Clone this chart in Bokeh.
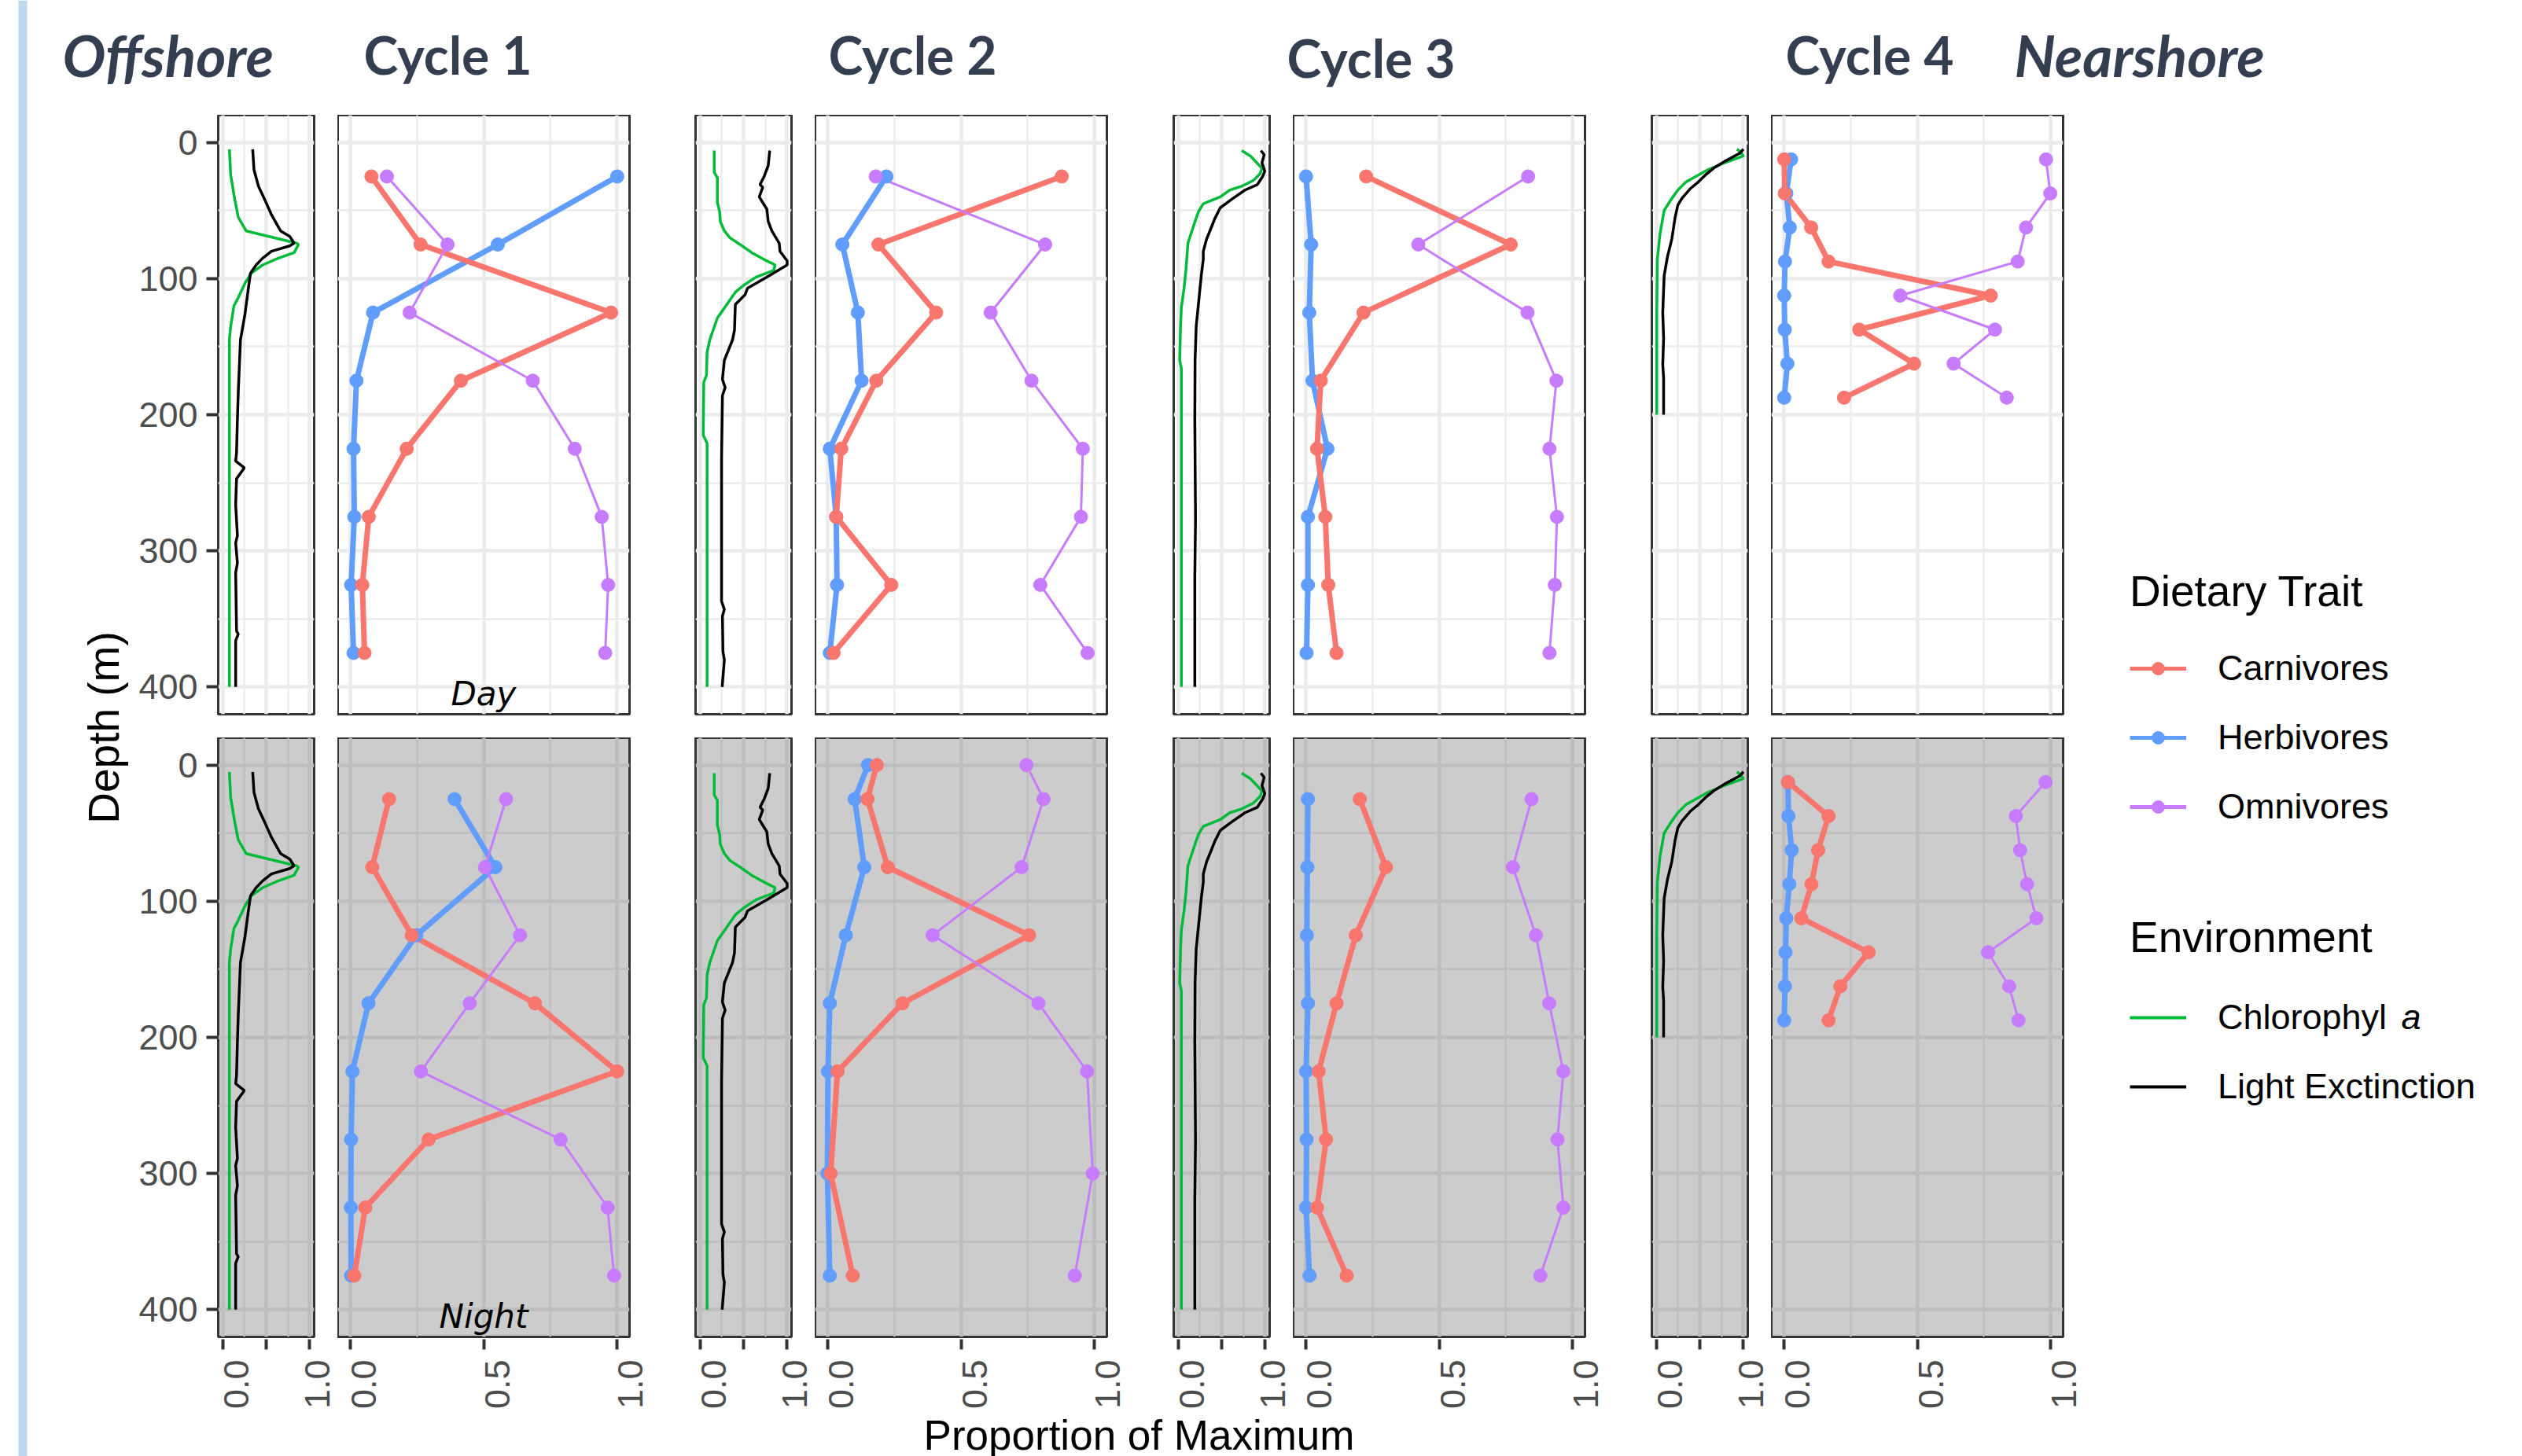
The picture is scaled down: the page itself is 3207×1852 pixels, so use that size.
from math import pi
from bokeh.plotting import figure
from bokeh.layouts import row, column
from bokeh.models import (Range1d, LinearAxis, FixedTicker, Label, BoxAnnotation, Legend,
                          LegendItem, Spacer, Grid, CustomJSTickFormatter)
from bokeh.embed import file_html
from bokeh.resources import INLINE

# ---------------- data ----------------
cycles = ["Cycle 1", "Cycle 2", "Cycle 3", "Cycle 4"]
traits = ["Carnivores", "Herbivores", "Omnivores"]
env_names = ["Chlorophyl", "Light Exctinction"]
depth_ticks = [0, 100, 200, 300, 400]

depths_std = [25, 75, 125, 175, 225, 275, 325, 375]
depths_c2_night = [0, 25, 75, 125, 175, 225, 300, 375]
depths_c4 = [12.5, 37.5, 62.5, 87.5, 112.5, 137.5, 162.5, 187.5]

c1_day_carn = [0.080, 0.264, 0.977, 0.415, 0.212, 0.070, 0.046, 0.054]
c1_day_herb = [1.0, 0.553, 0.086, 0.024, 0.013, 0.016, 0.004, 0.013]
c1_day_omni = [0.138, 0.365, 0.223, 0.684, 0.841, 0.942, 0.966, 0.955]
c1_night_carn = [0.146, 0.083, 0.231, 0.692, 1.0, 0.294, 0.057, 0.016]
c1_night_herb = [0.391, 0.544, 0.248, 0.069, 0.009, 0.004, 0.003, 0.004]
c1_night_omni = [0.584, 0.505, 0.636, 0.448, 0.265, 0.788, 0.964, 0.988]

c2_day_carn = [0.877, 0.191, 0.407, 0.183, 0.052, 0.033, 0.239, 0.023]
c2_day_herb = [0.221, 0.056, 0.114, 0.128, 0.009, 0.033, 0.036, 0.009]
c2_day_omni = [0.181, 0.815, 0.611, 0.764, 0.956, 0.949, 0.797, 0.974]
c2_night_carn = [0.185, 0.150, 0.226, 0.755, 0.281, 0.038, 0.012, 0.095]
c2_night_herb = [0.152, 0.102, 0.138, 0.069, 0.009, 0.002, 0.0, 0.009]
c2_night_omni = [0.745, 0.809, 0.727, 0.394, 0.790, 0.972, 0.993, 0.926]

c3_day_carn = [0.227, 0.768, 0.217, 0.057, 0.043, 0.074, 0.085, 0.116]
c3_day_herb = [0.002, 0.021, 0.014, 0.026, 0.082, 0.009, 0.009, 0.004]
c3_day_omni = [0.833, 0.422, 0.831, 0.939, 0.913, 0.941, 0.933, 0.913]
c3_night_carn = [0.203, 0.301, 0.188, 0.116, 0.049, 0.077, 0.043, 0.154]
c3_night_herb = [0.009, 0.007, 0.005, 0.009, 0.002, 0.004, 0.002, 0.015]
c3_night_omni = [0.846, 0.776, 0.862, 0.912, 0.965, 0.943, 0.965, 0.879]

c4_day_carn = [0.002, 0.004, 0.103, 0.168, 0.775, 0.283, 0.488, 0.226]
c4_day_herb = [0.028, 0.010, 0.023, 0.005, 0.002, 0.004, 0.014, 0.002]
c4_day_omni = [0.982, 0.998, 0.907, 0.876, 0.436, 0.791, 0.636, 0.835]
c4_night_carn = [0.016, 0.168, 0.129, 0.104, 0.066, 0.318, 0.212, 0.168]
c4_night_herb = [0.016, 0.018, 0.030, 0.021, 0.010, 0.007, 0.005, 0.002]
c4_night_omni = [0.980, 0.869, 0.885, 0.911, 0.946, 0.765, 0.844, 0.879]

c1_chl_depth = [5, 24, 42, 55, 65, 74, 75, 81, 85, 90, 96, 103, 114, 120, 135, 145, 400]
c1_chl = [0.078, 0.093, 0.14, 0.18, 0.27, 0.846, 0.87, 0.82, 0.64, 0.46, 0.33, 0.26, 0.18, 0.13, 0.093, 0.078, 0.078]
c1_light_depth = [5, 20, 32, 43, 53, 61, 65, 69, 74, 76, 80, 85, 90, 96, 106, 126, 145, 183, 203, 228, 234, 239, 247,
                  266, 289, 294, 309, 316, 359, 361, 366, 400]
c1_light = [0.345, 0.36, 0.41, 0.49, 0.56, 0.63, 0.665, 0.77, 0.82, 0.77, 0.56, 0.46, 0.385, 0.32, 0.298, 0.257, 0.205,
            0.18, 0.17, 0.16, 0.15, 0.25, 0.16, 0.15, 0.17, 0.15, 0.17, 0.15, 0.16, 0.18, 0.15, 0.15]

c2_chl_depth = [6, 22, 26, 44, 51, 58, 65, 70, 76, 81, 86, 90, 94, 99, 105, 110, 129, 145, 154, 171, 176, 215, 221, 400]
c2_chl = [0.164, 0.164, 0.20, 0.20, 0.226, 0.233, 0.28, 0.343, 0.484, 0.594, 0.736, 0.862, 0.846, 0.64, 0.50, 0.406,
          0.20, 0.113, 0.082, 0.075, 0.044, 0.038, 0.082, 0.082]
c2_light_depth = [6, 17, 25, 31, 33, 40, 49, 58, 65, 74, 80, 87, 90, 99, 107, 112, 119, 138, 145, 160, 174, 180, 186,
                  232, 337, 343, 348, 374, 380, 400]
c2_light = [0.80, 0.783, 0.736, 0.689, 0.72, 0.68, 0.767, 0.783, 0.824, 0.909, 0.918, 1.0, 1.0, 0.767, 0.547, 0.516,
            0.406, 0.396, 0.374, 0.28, 0.258, 0.289, 0.258, 0.248, 0.248, 0.28, 0.258, 0.264, 0.28, 0.255]

c3_chl_depth = [6, 10, 19, 23, 28, 32, 35, 40, 45, 51, 58, 64, 74, 93, 107, 121, 136, 160, 166, 400]
c3_chl = [0.73, 0.83, 0.962, 0.94, 0.862, 0.736, 0.594, 0.484, 0.289, 0.233, 0.195, 0.164, 0.113, 0.091, 0.069,
          0.038, 0.028, 0.019, 0.038, 0.038]
c3_light_depth = [6, 9, 15, 21, 25, 31, 35, 42, 48, 56, 62, 71, 80, 86, 99, 119, 135, 160, 203, 276, 319, 400]
c3_light = [0.95, 0.987, 0.962, 0.994, 0.97, 0.909, 0.767, 0.61, 0.484, 0.421, 0.384, 0.327, 0.289, 0.289, 0.264,
            0.233, 0.208, 0.195, 0.192, 0.20, 0.192, 0.192]

c4_chl_depth = [5, 6, 10, 15, 20, 25, 29, 35, 42, 50, 67, 86, 125, 200]
c4_chl = [0.925, 0.947, 1.0, 0.783, 0.594, 0.453, 0.343, 0.248, 0.17, 0.091, 0.044, 0.013, 0.006, 0.006]
c4_light_depth = [5, 8, 14, 19, 24, 29, 34, 41, 46, 55, 71, 84, 98, 125, 144, 163, 173, 200]
c4_light = [1.0, 0.956, 0.783, 0.657, 0.563, 0.484, 0.39, 0.296, 0.248, 0.217, 0.179, 0.129, 0.091, 0.075, 0.085,
            0.075, 0.085, 0.085]

# ---------------- styling ----------------
RED, BLUE, PURPLE, GREEN = "#F8766D", "#619CFF", "#C77CFF", "#00BA38"
FONT = "Liberation Sans"
TITLE_FONT = "Lato"
TITLE_COLOR = "#333F50"
BAR_COLOR = "#BDD7EE"
DAY_GRID, NIGHT_BG, NIGHT_GRID = "#EBEBEB", "#CCCCCC", "#BDBDBD"
W, H = 3207, 1852
BAR_W = 40
TOP_H = 146
FRAME_H = 762
ENV_W, DIET_W = 122, 371
ENV_RANGE, DIET_RANGE = (-0.05, 1.05), (-0.046, 1.046)
DAY_MB, NIGHT_MB, STRIP_B = 30, 2, 90
MAIN_H = (FRAME_H + DAY_MB) + (FRAME_H + NIGHT_MB) + (1 + STRIP_B)
BOT_H = H - TOP_H - MAIN_H
LEFT_W, YAXIS_W = 127, 110
ENV_MBL = [YAXIS_W, 4, 4, 4]
ENV_MBR = 30
DIET_MBR = [80, 81, 81, 40]
RW = W - BAR_W

diet_data = {
    (0, "day"): (depths_std, c1_day_carn, c1_day_herb, c1_day_omni),
    (0, "night"): (depths_std, c1_night_carn, c1_night_herb, c1_night_omni),
    (1, "day"): (depths_std, c2_day_carn, c2_day_herb, c2_day_omni),
    (1, "night"): (depths_c2_night, c2_night_carn, c2_night_herb, c2_night_omni),
    (2, "day"): (depths_std, c3_day_carn, c3_day_herb, c3_day_omni),
    (2, "night"): (depths_std, c3_night_carn, c3_night_herb, c3_night_omni),
    (3, "day"): (depths_c4, c4_day_carn, c4_day_herb, c4_day_omni),
    (3, "night"): (depths_c4, c4_night_carn, c4_night_herb, c4_night_omni),
}
env_data = [
    (c1_chl_depth, c1_chl, c1_light_depth, c1_light),
    (c2_chl_depth, c2_chl, c2_light_depth, c2_light),
    (c3_chl_depth, c3_chl, c3_light_depth, c3_light),
    (c4_chl_depth, c4_chl, c4_light_depth, c4_light),
]


def blank_fig(w, h, xr, yr):
    p = figure(frame_width=w, frame_height=h, x_range=xr, y_range=yr, x_axis_location=None,
               y_axis_location=None, toolbar_location=None, output_backend="svg", min_border=0,
               outline_line_color=None, background_fill_color="white", border_fill_color="white")
    p.xgrid.visible = False
    p.ygrid.visible = False
    return p


def panel(ci, kind, period):
    env = kind == "env"
    night = period == "night"
    fw = ENV_W if env else DIET_W
    xr = Range1d(*(ENV_RANGE if env else DIET_RANGE))
    yr = Range1d(420, -20)
    mbl = ENV_MBL[ci] if env else 0
    mbr = ENV_MBR if env else DIET_MBR[ci]
    p = figure(frame_width=fw, frame_height=FRAME_H, x_range=xr, y_range=yr, x_axis_location=None,
               y_axis_location=None, toolbar_location=None, output_backend="svg", min_border=0,
               min_border_left=mbl, min_border_right=mbr, min_border_top=0,
               min_border_bottom=NIGHT_MB if night else DAY_MB,
               background_fill_color=NIGHT_BG if night else "white", border_fill_color="white",
               outline_line_color="#333333", outline_line_width=3)
    p.xgrid.visible = False
    p.ygrid.visible = False
    gc = NIGHT_GRID if night else DAY_GRID
    p.add_layout(Grid(dimension=0, ticker=FixedTicker(ticks=[0, 0.5, 1], minor_ticks=[0.25, 0.75]),
                      grid_line_color=gc, grid_line_width=4.5, minor_grid_line_color=gc,
                      minor_grid_line_width=2.3), "center")
    p.add_layout(Grid(dimension=1, ticker=FixedTicker(ticks=depth_ticks, minor_ticks=[50, 150, 250, 350]),
                      grid_line_color=gc, grid_line_width=4.5, minor_grid_line_color=gc,
                      minor_grid_line_width=2.3), "center")

    if env:
        chl_d, chl, lt_d, lt = env_data[ci]
        p.line(x=chl, y=chl_d, color=GREEN, line_width=3.5)
        p.line(x=lt, y=lt_d, color="black", line_width=3.5)
    else:
        d, carn, herb, omni = diet_data[(ci, period)]
        p.line(x=herb, y=d, color=BLUE, line_width=7)
        p.line(x=carn, y=d, color=RED, line_width=7)
        p.line(x=omni, y=d, color=PURPLE, line_width=3)
        p.scatter(x=herb, y=d, color=BLUE, size=17)
        p.scatter(x=carn, y=d, color=RED, size=17)
        p.scatter(x=omni, y=d, color=PURPLE, size=17)
        if ci == 0:
            p.add_layout(Label(x=0.5, y=405, text="Night" if night else "Day", text_font="DejaVu Sans",
                               text_font_style="italic", text_font_size="42px", text_align="center",
                               text_baseline="middle", text_color="black"))

    if env and ci == 0:
        yax = LinearAxis(ticker=FixedTicker(ticks=depth_ticks), axis_line_color=None, major_tick_out=15,
                         major_tick_in=0, major_tick_line_width=4, major_tick_line_color="#333333",
                         minor_tick_line_color=None, major_label_standoff=11, major_label_text_font=FONT,
                         major_label_text_font_size="45px", major_label_text_color="#4D4D4D")
        p.add_layout(yax, "left")
    return p


def strip(ci, kind):
    """x axis under the night panel: tick marks at 0/0.5/1, labels set just right of them (as in ggplot)."""
    env = kind == "env"
    lo, hi = ENV_RANGE if env else DIET_RANGE
    fw_panel = ENV_W if env else DIET_W
    ppu = fw_panel / (hi - lo)
    gap = ENV_MBR if env else DIET_MBR[ci]
    mbl = ENV_MBL[ci] if env else 0
    p = figure(frame_width=fw_panel + gap, frame_height=1, x_range=Range1d(lo, hi + gap / ppu),
               y_range=Range1d(0, 1), x_axis_location=None, y_axis_location=None, toolbar_location=None,
               output_backend="svg", min_border=0, min_border_left=mbl, min_border_bottom=STRIP_B,
               outline_line_color=None, background_fill_color="white", border_fill_color="white")
    p.xgrid.visible = False
    p.ygrid.visible = False
    marks = [0, 0.5, 1]
    labelled = [0, 1] if env else [0, 0.5, 1]
    shifts_px = [17, 10] if env else [17, 17, 17]
    label_pos = [v + s / ppu for v, s in zip(labelled, shifts_px)]
    code = "return (Math.round(tick * 2) / 2).toFixed(1);"
    ax = LinearAxis(ticker=FixedTicker(ticks=label_pos, minor_ticks=marks),
                    formatter=CustomJSTickFormatter(code=code), major_label_orientation=pi / 2,
                    axis_line_color=None, major_tick_out=13, major_tick_in=0, major_tick_line_color=None,
                    minor_tick_out=13, minor_tick_in=0, minor_tick_line_width=4, minor_tick_line_color="#333333",
                    major_label_standoff=13, major_label_text_font=FONT, major_label_text_font_size="45px",
                    major_label_text_color="#4D4D4D")
    p.add_layout(ax, "below")
    return p


# ---------------- far-left bar ----------------
bar_fig = blank_fig(BAR_W, H, Range1d(0, BAR_W), Range1d(H, 0))
bar_fig.add_layout(BoxAnnotation(left=23, right=34, fill_color=BAR_COLOR, fill_alpha=1, line_alpha=0))

# ---------------- top titles ----------------
title_fig = blank_fig(RW, TOP_H, Range1d(BAR_W, W), Range1d(TOP_H, 0))
titles = [("Offshore", 79, 69, "bold italic", "73px"), ("Cycle 1", 462, 69, "bold", "66px"),
          ("Cycle 2", 1053, 69, "bold", "66px"), ("Cycle 3", 1636, 73, "bold", "66px"),
          ("Cycle 4", 2270, 69, "bold", "66px"), ("Nearshore", 2561, 69, "bold italic", "73px")]
for txt, x, y, style, fs in titles:
    title_fig.add_layout(Label(x=x, y=y, text=txt, text_font=TITLE_FONT, text_font_style=style,
                               text_font_size=fs, text_color=TITLE_COLOR, text_align="left",
                               text_baseline="middle"))

# ---------------- left strip ----------------
left_fig = blank_fig(LEFT_W, MAIN_H, Range1d(BAR_W, BAR_W + LEFT_W), Range1d(MAIN_H, 0))
left_fig.add_layout(Label(x=131, y=925 - TOP_H, text="Depth (m)", angle=pi / 2, text_font=FONT,
                          text_font_size="55px", text_color="black", text_align="center",
                          text_baseline="middle"))

# ---------------- panels ----------------
cols = []
for ci in range(4):
    for kind in ["env", "diet"]:
        cols.append(column(panel(ci, kind, "day"), panel(ci, kind, "night"), strip(ci, kind)))

# ---------------- legends ----------------
OFF = 10000
LW1, LH1 = 499, 380
LW2, LH2 = 499, 300
lf1 = blank_fig(LW1, LH1, Range1d(OFF, OFF + LW1), Range1d(OFF + LH1, OFF))
items1 = []
for name, col, vals in [("Carnivores", RED, c4_day_carn), ("Herbivores", BLUE, c4_day_herb),
                        ("Omnivores", PURPLE, c4_day_omni)]:
    rl = lf1.line(x=vals, y=depths_c4, color=col, line_width=5)
    rs = lf1.scatter(x=vals, y=depths_c4, color=col, size=17)
    items1.append(LegendItem(label=name, renderers=[rl, rs]))
leg_kw = dict(location="top_left", margin=0, padding=0, border_line_color=None, background_fill_alpha=0,
              title_text_font=FONT, title_text_font_size="55px", title_text_font_style="normal",
              title_text_color="black", label_text_font=FONT, label_text_font_size="45px",
              label_text_color="black", label_standoff=40, glyph_width=72, glyph_height=40,
              label_height=52, spacing=36)
lf1.add_layout(Legend(items=items1, title="Dietary Trait", title_standoff=40, **leg_kw), "center")

lf2 = blank_fig(LW2, LH2, Range1d(OFF, OFF + LW2), Range1d(OFF + LH2, OFF))
r_chl = lf2.line(x=c1_chl, y=c1_chl_depth, color=GREEN, line_width=4)
r_lt = lf2.line(x=c1_light, y=c1_light_depth, color="black", line_width=4)
lf2.add_layout(Legend(items=[LegendItem(label=env_names[0], renderers=[r_chl]),
                             LegendItem(label=env_names[1], renderers=[r_lt])],
                      title="Environment", title_standoff=44, **leg_kw), "center")
lf2.add_layout(Label(x=OFF + 345, y=OFF + 133, text="a", text_font=FONT, text_font_style="italic",
                     text_font_size="45px", text_color="black", text_align="left", text_baseline="middle"))

leg_col = column(Spacer(height=720 - TOP_H), row(Spacer(width=45), lf1), Spacer(height=1160 - 720 - LH1),
                 row(Spacer(width=45), lf2))

main_row = row(left_fig, *cols, leg_col)

# ---------------- bottom strip ----------------
bottom_fig = blank_fig(RW, BOT_H, Range1d(BAR_W, W), Range1d(BOT_H, 0))
bottom_fig.add_layout(Label(x=1448, y=BOT_H / 2, text="Proportion of Maximum", text_font=FONT,
                            text_font_size="53px", text_color="black", text_align="center",
                            text_baseline="middle"))

layout = row(bar_fig, column(title_fig, main_row, bottom_fig))
open("out.html", "w").write(file_html(layout, INLINE))
